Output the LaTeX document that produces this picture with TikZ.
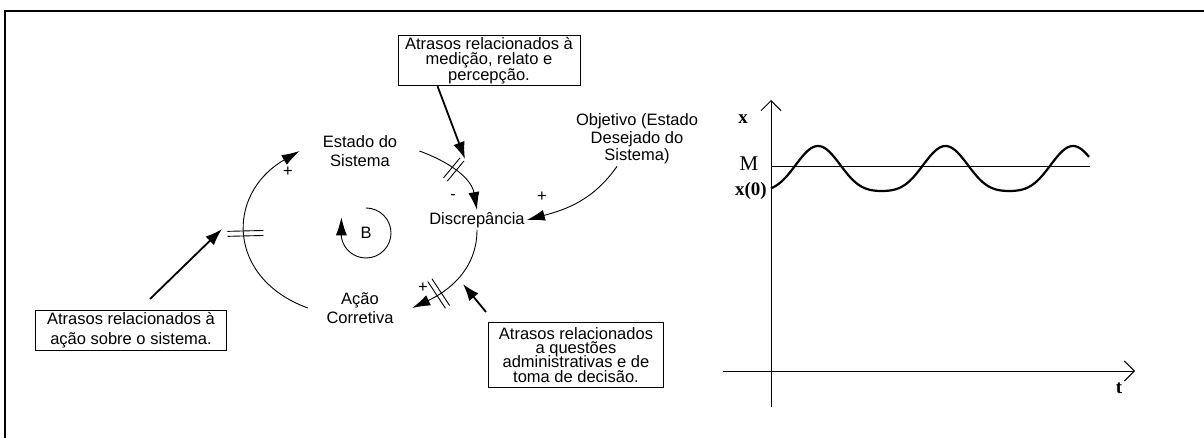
\documentclass[tikz,border=0pt]{standalone}
\usepackage{fontspec}
\setmainfont{Liberation Sans}
\newfontfamily\grfont{Liberation Serif}
\usetikzlibrary{arrows.meta,decorations.markings}
\newcommand\setfs[1]{\fontsize{16.5}{#1}\selectfont\lineskiplimit=-40pt\relax}
\begin{document}
\begin{tikzpicture}[x=1pt,y=1pt,
	lbl/.style={align=center,inner sep=2pt,font=\setfs{19}},
	note/.style={draw,line width=0.9pt,align=center,inner sep=2pt},
	sgn/.style={inner sep=0pt,font=\setfs{15}},
	glbl/.style={inner sep=0pt,font=\grfont\bfseries\fontsize{19}{19}\selectfont},
	conn/.style={line width=0.9pt,-{Latex[length=18pt,width=11pt]}},
	ptr/.style={line width=1.8pt,-{Latex[length=17pt,width=12pt]}},
	axis/.style={line width=0.9pt,-{Straight Barb[length=10pt,width=20pt]}},
	delay/.style 2 args={postaction={decorate,decoration={markings,
		mark=at position #1 with {\draw[line width=0.9pt,-] (-2.5pt,-#2pt)--(-2.5pt,#2pt) (2.5pt,-#2pt)--(2.5pt,#2pt);}}}}]
	\useasboundingbox (0,0) rectangle (1204,438);
	\draw[line width=2pt] (5,0) |- (1204,427);
	\node[lbl] (est) at (360,287) {Estado do\\Sistema};
	\node[lbl] (dis) at (477,218) {Discrepância};
	\node[lbl] (acao) at (360,130) {Ação\\Corretiva};
	\node[lbl,font=\setfs{17.5}] (obj) at (637,299) {Objetivo (Estado\\Desejado do\\Sistema)};
	\node[lbl] (loopB) at (366,205) {B};
	\node[note,minimum width=182pt,minimum height=47pt,font=\setfs{15.5}] (notemed) at (489,377.5)
		{Atrasos relacionados à\\medição, relato e\\percepção.};
	\node[note,minimum width=191pt,minimum height=40pt,font=\setfs{19.5}] (noteacao) at (131,108)
		{Atrasos relacionados à\\ação sobre o sistema.};
	\node[note,minimum width=175pt,minimum height=65pt,font=\setfs{14.2}] (noteadm) at (576,83)
		{Atrasos relacionados\\a questões\\administrativas e de\\toma de decisão.};
	\node[sgn] (plusA) at (288,266) {+};
	\node[sgn] (minusB) at (453,241) {-};
	\node[sgn] (plusC) at (542,241) {+};
	\node[sgn] (plusD) at (423,150) {+};
	\draw[conn,delay={0.45}{13}] ([xshift=20pt]est.east) to[out=-20,in=100] (dis.north);
	\draw[conn] ([xshift=-20pt]obj.south) to[out=-125,in=15] (dis.east);
	\draw[conn,delay={0.72}{16}] (dis.south) to[out=-90,in=25] ([xshift=16.5pt]acao.east);
	\draw[conn,delay={0.5}{18}] ([xshift=-16.5pt]acao.west) to[out=160,in=-150,looseness=1.4] ([xshift=-21pt]est.west);
	\draw[conn] (loopB.center) ++(90:25) arc[start angle=90,end angle=-170,radius=25] -- ++(0,20);
	\coordinate (tipmed) at (465,279);
	\coordinate (tailacao) at (150,139);
	\coordinate (tipacao) at (222,209);
	\coordinate (tailadm) at (486,126);
	\coordinate (tipadm) at (463,154);
	\draw[ptr] ([xshift=40pt]notemed.south west) -- (tipmed);
	\draw[ptr] (tailacao) -- (tipacao);
	\draw[ptr] (tailadm) -- (tipadm);
	\coordinate (ybot) at (771,31);
	\coordinate (ytop) at (771,338);
	\coordinate (xleft) at (723,67);
	\coordinate (xright) at (1135,67);
	\draw[axis] (ybot) -- (ytop);
	\draw[axis] (xleft) -- (xright);
	\draw[line width=0.9pt] (771,272) -- (1090,272);
	\draw[line width=2.2pt] plot[domain=771:1089,samples=160,smooth]
		(\x,{265.3+22.5*cos((\x-818)*2.8235)+4.2*cos(2*(\x-818)*2.8235)});
	\node[glbl] (xlab) at (743,319) {x};
	\node[glbl,font=\grfont\fontsize{21}{21}\selectfont] (mlab) at (749,274) {M};
	\node[glbl,anchor=east] (x0lab) at (767,247) {x(0)};
	\node[glbl] (tlab) at (1119,50) {t};
\end{tikzpicture}
\end{document}
